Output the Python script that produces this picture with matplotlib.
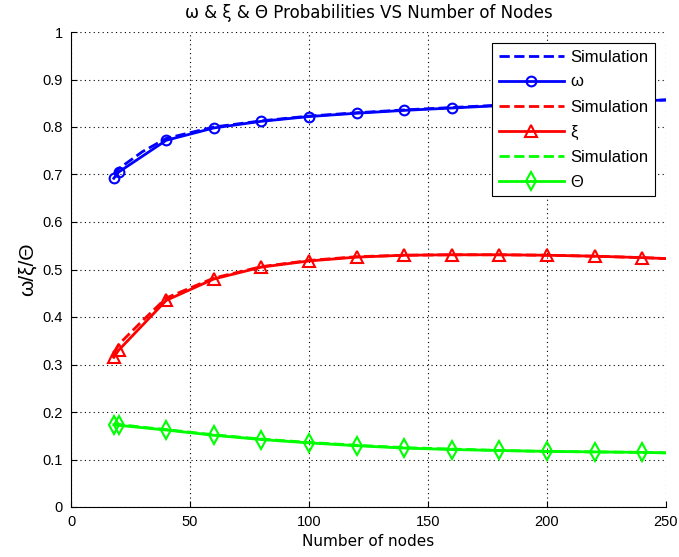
import matplotlib
matplotlib.use("Agg")
import matplotlib.pyplot as plt
import numpy as np

plt.rcParams['font.family'] = ['Liberation Sans', 'DejaVu Sans']
plt.rcParams['font.size'] = 10

# Number of nodes (analysis points); last point (250) has no marker
nodes = [18, 20, 40, 60, 80, 100, 120, 140, 160, 180, 200, 220, 240, 250]

# Simulation curves
sim_nodes = [18, 20, 30, 40, 60, 80, 100, 120, 140, 160, 180, 200, 220, 240, 250]
omega_sim = [0.700, 0.712, 0.748, 0.776, 0.800, 0.813, 0.823, 0.830, 0.836, 0.841, 0.846, 0.850, 0.853, 0.855, 0.857]
xi_sim = [0.325, 0.342, 0.392, 0.440, 0.482, 0.506, 0.519, 0.527, 0.530, 0.531, 0.531, 0.530, 0.528, 0.525, 0.523]
theta_sim = [0.175, 0.174, 0.168, 0.163, 0.152, 0.143, 0.136, 0.130, 0.125, 0.122, 0.119, 0.117, 0.116, 0.115, 0.114]

# Analytical curves
omega = [0.692, 0.705, 0.772, 0.798, 0.812, 0.822, 0.829, 0.835, 0.840, 0.845, 0.849, 0.852, 0.855, 0.857]
xi = [0.315, 0.330, 0.435, 0.480, 0.505, 0.518, 0.526, 0.530, 0.531, 0.531, 0.530, 0.528, 0.525, 0.523]
theta = [0.173, 0.172, 0.162, 0.151, 0.142, 0.135, 0.129, 0.124, 0.121, 0.119, 0.117, 0.116, 0.115, 0.114]

fig = plt.figure(figsize=(6.79, 5.57), dpi=100)
# axes box: x 71..666 px, y 32..507 px
ax = fig.add_axes([71 / 679, 50 / 557, 595 / 679, 475 / 557])

marks = list(range(len(nodes) - 1))

ax.plot(sim_nodes, omega_sim, '--', color='#0000ff', lw=2, label='Simulation')
ax.plot(nodes, omega, '-', color='#0000ff', lw=2, marker='o', ms=7, mfc='none',
        mew=1.5, markevery=marks, label='ω')
ax.plot(sim_nodes, xi_sim, '--', color='#ff0000', lw=2, label='Simulation')
ax.plot(nodes, xi, '-', color='#ff0000', lw=2, marker='^', ms=9, mfc='none',
        mew=1.5, markevery=marks, label='ξ')
ax.plot(sim_nodes, theta_sim, '--', color='#00ff00', lw=2, label='Simulation')
ax.plot(nodes, theta, '-', color='#00ff00', lw=2, marker='d', ms=9, mfc='none',
        mew=1.5, markevery=marks, label='Θ')

ax.set_xlim(0, 250)
ax.set_ylim(0, 1)
ax.set_xticks(np.arange(0, 251, 50))
ax.set_yticks(np.arange(0, 1.01, 0.1))
ax.set_yticklabels(['0', '0.1', '0.2', '0.3', '0.4', '0.5', '0.6', '0.7', '0.8', '0.9', '1'])
ax.grid(True, color='black', linestyle=(0, (1, 3)), linewidth=0.8)
ax.tick_params(direction='in', length=4, labelsize=10.5, pad=6)
ax.spines['top'].set_visible(False)
ax.spines['right'].set_visible(False)

ax.set_title('ω & ξ & Θ Probabilities VS Number of Nodes', fontsize=12,
             family='DejaVu Sans', pad=10)
ax.set_xlabel('Number of nodes', fontsize=11, family='DejaVu Sans', labelpad=3)
ax.set_ylabel('ω/ξ/Θ', fontsize=15, labelpad=4)

leg = ax.legend(loc='upper right', handlelength=3.9, handletextpad=0.4,
                fancybox=False, framealpha=1, edgecolor='black', fontsize=12,
                borderaxespad=0.65, labelspacing=0.6, borderpad=0.4)
leg.get_frame().set_linewidth(0.8)

fig.savefig('out.png', dpi=100)
